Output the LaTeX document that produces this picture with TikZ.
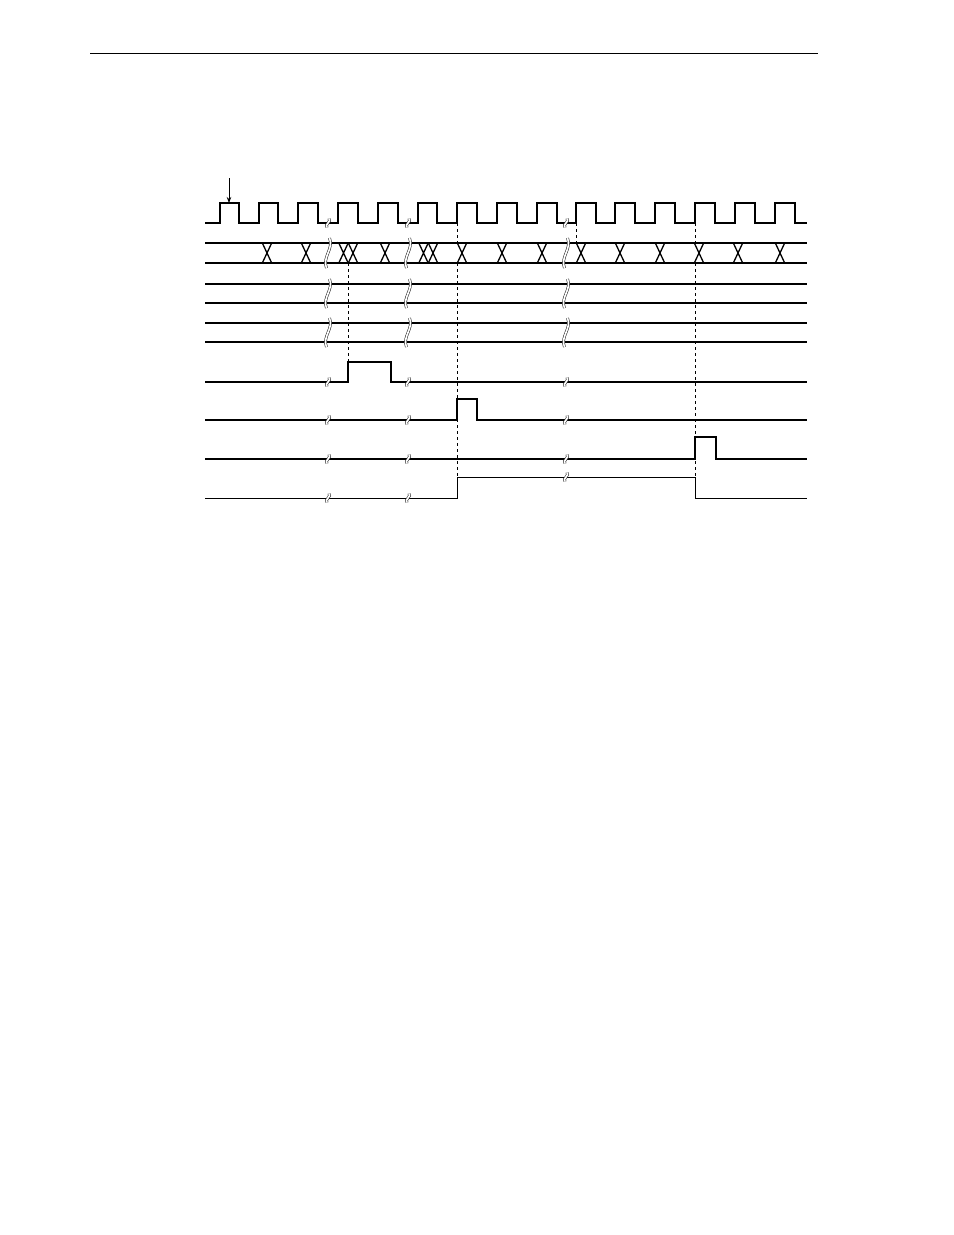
\documentclass[tikz,border=0pt]{standalone}
\usetikzlibrary{arrows.meta}
\begin{document}
\begin{tikzpicture}[x=1bp,y=-1bp,
  sig/.style={line width=1.8bp, line join=miter},
  thinsig/.style={line width=0.9bp, line join=miter},
  xmark/.style={line width=1.3bp},
  guide/.style={line width=0.8bp, dash pattern=on 3bp off 3bp},
  brk/.style={draw=black!80, line width=0.6bp, double=white, double distance=1.6bp},
  rule/.style={line width=1bp}
]
\useasboundingbox (0,0) rectangle (954,1235);
% header rule
\coordinate (ruleL) at (90,53);
\coordinate (ruleR) at (818,53);
\draw[rule] (ruleL) -- (ruleR);

% clock
\draw[sig] (205,223)
  foreach \r/\f in {220/239,259/278,298/318,338/358,378/398,418/437,457/477,497/517,537/557,576/596,615/635,655/675,695/715,735/755,775/795}
  { -- (\r,223) -- (\r,203) -- (\f,203) -- (\f,223) } -- (807,223);

% data bus
\draw[sig] (205,243) -- (807,243);
\draw[sig] (205,263) -- (807,263);
\foreach \c in {267,306,343.5,353,385,423.5,433,462,502,542,581,620,660,699,738,780}
  \draw[xmark] ({\c-4.7},243) -- ({\c+4.7},263) ({\c-4.7},263) -- ({\c+4.7},243);

% rows 3 and 4
\foreach \y in {284,303,323,342}
  \draw[sig] (205,\y) -- (807,\y);

% row 5
\draw[sig] (205,382) -- (348,382) -- (348,362) -- (391,362) -- (391,382) -- (807,382);
% row 6
\draw[sig] (205,420) -- (457,420) -- (457,399) -- (477,399) -- (477,420) -- (807,420);
% row 7
\draw[sig] (205,459) -- (695,459) -- (695,437) -- (716,437) -- (716,459) -- (807,459);
% row 8
\draw[thinsig] (205,498) -- (457,498) -- (457,477) -- (695,477) -- (695,498) -- (807,498);

% dashed guides
\draw[guide] (348,263) -- (348,362);
\draw[guide] (457,223) -- (457,243);
\draw[guide] (457,263) -- (457,498);
\draw[guide] (576,223) -- (576,243);
\draw[guide] (695,223) -- (695,243);
\draw[guide] (695,263) -- (695,498);

% tall breaks
\foreach \x in {328,408,566}{
  \foreach \t/\b in {238/268,279/308,318/347}{
    \draw[brk] ({\x+1.5},\t) .. controls ({\x+6},{\t+0.35*(\b-\t)}) and ({\x-6},{\t+0.65*(\b-\t)}) .. ({\x-1.5},\b);
  }
}
% small breaks
\foreach \x/\y in {328/223,408/223,566/223,328/382,408/382,566/382,328/420,408/420,566/420,328/459,408/459,566/459,328/498,408/498,566/477}{
  \draw[brk] ({\x+1},{\y-4.5}) .. controls ({\x+4},{\y-1.5}) and ({\x-4},{\y+1.5}) .. ({\x-1},{\y+4.5});
}

% arrow
\coordinate (arrS) at (229,178);
\coordinate (arrE) at (229,203);
\draw[-{Stealth[length=6bp,width=4.5bp]}, line width=0.8bp] (arrS) -- (arrE);
\end{tikzpicture}
\end{document}
